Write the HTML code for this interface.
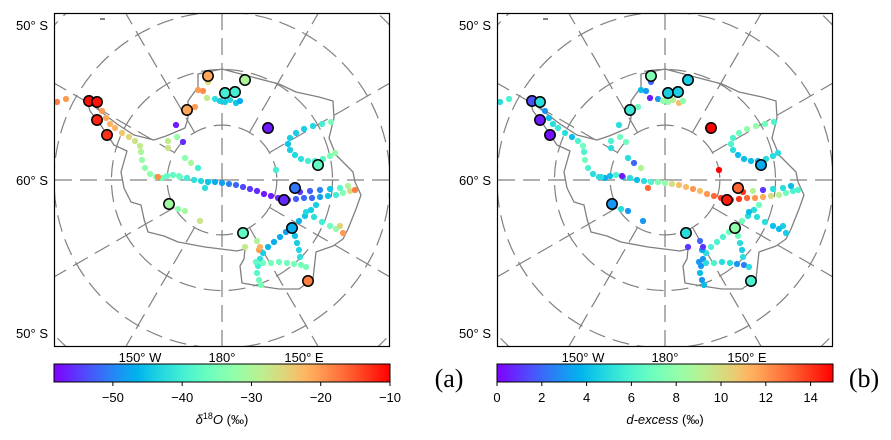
<!DOCTYPE html>
<html><head><meta charset="utf-8"><style>
html,body{margin:0;padding:0;background:#fff;overflow:hidden;width:891px;height:440px;}
svg{display:block;font-family:"Liberation Sans","DejaVu Sans",sans-serif;overflow:hidden;}
</style></head><body>
<svg id="fig" width="891" height="440" viewBox="0 0 891 440" xmlns="http://www.w3.org/2000/svg">
<defs>
<clipPath id="clipL"><rect x="0" y="0" width="336" height="334"/></clipPath>
<linearGradient id="rainbow" x1="0" x2="1" y1="0" y2="0"></linearGradient>
</defs>
</svg>
<script>
// Polar-stereographic coordinates (km, x toward 90°E, y toward 0°)
const stX=[-2660,-2500,-2500,-2300,-280,460,60,260,-700,920,1920,1460,1240,-1060,420,1400,1720];
const stY=[1580,1560,1200,900,2080,2000,1740,1760,1400,1040,300,-160,-400,-480,-1060,-960,-2020];
const stA=[-11,-11,-12,-13,-21,-30,-40,-40,-21,-57,-37,-51,-56,-31,-37,-47,-18];
const stB=[1.5,5,0.5,0.3,7.5,4.5,4.5,4.5,5.5,15,3.5,13,14.5,3,5,8,6];

const ptX=[-2400,-2320,-2240,-2140,-2000,-1860,-1740,-1640,-1620,-1600,-1540,-1440,-1320,-1200,-1100,
-980,-840,-700,-560,-420,-280,-140,0,140,280,420,560,700,840,980,1120,1320,1480,1640,1800,1960,2120,2280,2420,2560,2660,
1560,1760,1960,2160,2360,2520,
2180,2000,1820,1640,1480,1360,1320,1360,1460,1580,1720,1860,2020,2160,2260,
1880,1780,1660,1540,1420,1280,1160,1040,920,820,760,720,700,740,780,
1680,1840,2000,2160,2280,2360,2420,
1460,1500,1540,1560,
680,820,980,1140,1300,1440,1580,1680,
700,460,740,760,
-140,-40,60,160,280,360,-300,-480,-380,-280,-540,
-920,-780,-900,-1080,-1080,-740,-620,-480,-340,1080,-880,-740,-440,-1280,-860,-3300,-3120];
const ptY=[1380,1240,1120,1040,940,860,780,680,560,400,240,120,60,40,80,
100,60,40,0,-20,-40,-40,-60,-80,-100,-140,-180,-220,-280,-320,-360,-400,-380,-360,-360,-340,-320,-300,-260,-220,-200,
-240,-220,-200,-180,-160,-120,
1160,1120,1080,1020,940,840,720,600,500,420,380,380,420,480,540,
-500,-600,-720,-820,-920,-1040,-1140,-1240,-1340,-1460,-1580,-1720,-1860,-2000,-2100,
-640,-740,-840,-920,-980,-920,-1060,
-1120,-1260,-1400,-1540,
-1640,-1660,-1660,-1640,-1660,-1680,-1700,-1740,
-1220,-1340,-1400,-1340,
1620,1580,1560,1600,1540,1580,1640,1800,1780,1960,1460,
1100,760,860,780,640,440,340,240,-160,200,-580,-620,-820,60,80,1560,1620];
const ptA=[-20,-21,-22,-22,-24,-25,-27,-28,-30,-32,-33,-33,-34,-36,-37,
-37,-38,-40,-42,-43,-45,-47,-48,-50,-52,-54,-55,-56,-57,-57,-56,-55,-53,-52,-52,-48,-45,-40,-34,-26,-18,
-55,-53,-50,-45,-38,-30,
-35,-40,-43,-44,-44,-44,-45,-44,-43,-42,-40,-39,-38,-35,-32,
-44,-44,-45,-46,-47,-48,-47,-47,-46,-44,-42,-40,-38,-36,-35,
-43,-42,-40,-36,-32,-25,-20,
-45,-44,-43,-42,
-37,-36,-35,-36,-36,-35,-35,-35,
-30,-28,-20,-22,
-42,-44,-44,-43,-45,-47,-28,-20,-19,-26,-20,
-57,-56,-32,-28,-27,-33,-30,-40,-42,-40,-33,-31,-27,-19,-36,-18,-20];
const ptB=[3,4,5,5.5,5,4,6,7,6,7,6,5,5,3.5,4,
6,4,5,4,5,6,7.5,8,10,11,11,12,11,12,13,14,14,14,13,12,11.5,10,9,7,6,6,
14,9,1,5,5,4,
6,7,8,8,7,6,6,5,4,4,4,4,5,5,5,
7,5,5,7,7,7,6,6,6,5,3,3,4,3,4,
4,5,5,4,4,4.5,4.5,
7,5,4.5,5,
3,5,6,5,5,3,2.5,5,
2,1,3.5,1,
3,8,8,9,11,8,0.5,4,3,2,7,
5,7,7,6,5,5,2,9,13,15,5,3,3,5,0.5,5,6];

const lonTicks=["150° W","180°","150° E"];
const latLabels=["50° S","60° S","50° S"];
const rangeA=[-58.5,-10], rangeB=[0,15];
const ticksA=[-50,-40,-30,-20,-10], ticksB=[0,2,4,6,8,10,12,14];

const NS="http://www.w3.org/2000/svg";
const svg=document.getElementById('fig');
function mk(tag,attrs,parent){const e=document.createElementNS(NS,tag);for(const k in attrs)e.setAttribute(k,attrs[k]);(parent||svg).appendChild(e);return e;}
function rainbow(t){t=Math.max(0,Math.min(1,t));const r=Math.min(1,Math.abs(2*t-0.5)),g=Math.sin(Math.PI*t),b=Math.cos(Math.PI*t/2);return `rgb(${Math.round(r*255)},${Math.round(g*255)},${Math.round(b*255)})`;}
const grad=svg.querySelector('#rainbow');
for(let i=0;i<=40;i++){mk('stop',{offset:(i/40),'stop-color':rainbow(i/40)},grad);}

const W=336,H=334,CX=168,CY=167,K=627,PXKM=0.05;
const mapX=v=>CX+v*PXKM, mapY=v=>CY-v*PXKM;
const coast="M33,88 L46,98 L63,111 L80,122 L100,127 L112,123 L131,115 L134,105 L134,88 L144,74 L144,61 L168,56 L198,64 L225,71 L242,79 L265,84 L279,88 L280,105 L275,125 L282,142 L292,152 L299,159 L301,169 L307,182 L302,196 L294,216 L289,226 L279,233 L262,239 L259,266 L245,276 L225,276 L205,273 L188,270 L186,253 L190,246 L191,236 L183,238 L151,234 L124,229 L110,223 L94,219 L90,206 L87,192 L77,189 L70,175 L67,159 L73,138 L60,132 L46,111 L36,98 Z";

function panel(ox,vals,range,ticks,label,letter,letterX,pname){
  const g=mk('g',{transform:`translate(${ox},13)`});
  
  
  const c=mk('g',{'clip-path':'url(#clipL)'},g);
  [10,20,30,40].forEach(cl=>{
    const e=mk('circle',{cx:CX,cy:CY,r:K*Math.tan(cl*Math.PI/360),fill:'none',stroke:'#808080','stroke-width':1.2,'stroke-dasharray':'17 8'},c);
    
    
  });
  for(let lon=0;lon<360;lon+=30){
    const a=lon*Math.PI/180, r0=(lon%90===0)?0:55;
    const dx=Math.sin(a), dy=-Math.cos(a);
    let t=1e9;
    if(dx>1e-9)t=Math.min(t,(W-CX)/dx); if(dx<-1e-9)t=Math.min(t,-CX/dx);
    if(dy>1e-9)t=Math.min(t,(H-CY)/dy); if(dy<-1e-9)t=Math.min(t,-CY/dy);
    const e=mk('line',{x1:CX+r0*dx,y1:CY+r0*dy,x2:CX+t*dx,y2:CY+t*dy,stroke:'#808080','stroke-width':1.2,'stroke-dasharray':'17 8'},c);
    
    
  }
  const cs=mk('path',{d:coast,fill:'none',stroke:'#808080','stroke-width':1.3,'stroke-linejoin':'round'},c);
  
  
  mk('path',{d:"M46,5 l5,0 l0,2 l-5,0z",fill:'#808080'},c);
  const [lo,hi]=range;
  const norm=v=>(v-lo)/(hi-lo);
  for(let i=0;i<ptX.length;i++){
    const p=mk('circle',{cx:mapX(ptX[i]),cy:mapY(ptY[i]),r:3.1,fill:rainbow(norm(vals.p[i]))},c);
    
    
  }
  for(let i=0;i<stX.length;i++){
    const p=mk('circle',{cx:mapX(stX[i]),cy:mapY(stY[i]),r:5.2,fill:rainbow(norm(vals.s[i])),stroke:'#000','stroke-width':1.5},c);
    
    
  }
  const fr=mk('rect',{x:0.5,y:0.5,width:W-1,height:H-1,fill:'none',stroke:'#000','stroke-width':1.2},g);
  
  
  [12,167,320].forEach((yy,i)=>{
    const t=mk('text',{x:-6,y:yy+5,'text-anchor':'end','font-size':13},g);t.textContent=latLabels[i];
    
    
  });
  [86,168,250].forEach((xx,i)=>{
    const t=mk('text',{x:xx,y:349,'text-anchor':'middle','font-size':13},g);t.textContent=lonTicks[i];
    
    
  });
  const cb=mk('g',{transform:`translate(${ox},364)`});
  
  
  mk('rect',{x:0,y:0,width:W,height:18,fill:'url(#rainbow)',stroke:'#000','stroke-width':1},cb);
  const sx=v=>(v-lo)/(hi-lo)*W;
  ticks.forEach(v=>{
    mk('line',{x1:sx(v),x2:sx(v),y1:18,y2:22,stroke:'#000','stroke-width':1},cb);
    const t=mk('text',{x:sx(v),y:38,'text-anchor':'middle','font-size':13},cb);
    t.textContent=String(v).replace('-','\u2212');
    
    
  });
  const lt=mk('text',{x:W/2,y:60,'text-anchor':'middle','font-size':13},cb);
  lt.innerHTML=label;
  
  
  const L=mk('text',{x:letterX,y:387,'text-anchor':'middle','font-size':26,'font-family':'"Liberation Serif",serif'});
  L.textContent=letter;
  
  
}
panel(54,{p:ptA,s:stA},rangeA,ticksA,'<tspan font-style="italic">δ</tspan><tspan font-size="9" dy="-5">18</tspan><tspan dy="5" font-style="italic">O</tspan> (‰)','(a)',449,'d18o');
panel(497,{p:ptB,s:stB},rangeB,ticksB,'<tspan font-style="italic">d-excess</tspan> (‰)','(b)',864,'dexcess');
</script>
</body></html>
